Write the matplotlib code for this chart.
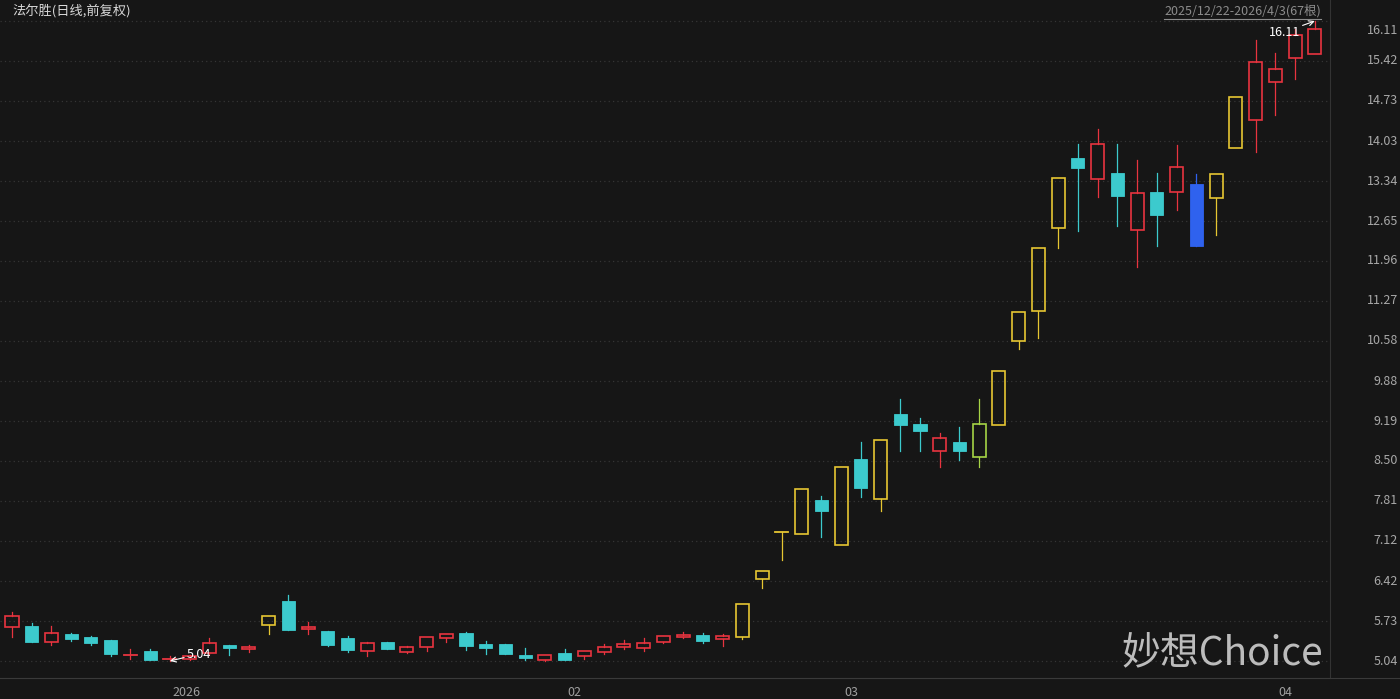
import matplotlib
matplotlib.use("Agg")
import matplotlib.pyplot as plt
from matplotlib.patches import Rectangle
from matplotlib.lines import Line2D

plt.rcParams["font.family"] = ["Noto Sans CJK SC", "DejaVu Sans"]

# daily OHLC, 2025/12/22 - 2026/4/3 (67 bars)
opens = [5.63, 5.65, 5.37, 5.51, 5.45, 5.40, 5.14, 5.22, 5.06, 5.07,
         5.17, 5.31, 5.24, 5.66, 6.08, 5.59, 5.56, 5.44, 5.21, 5.37,
         5.20, 5.29, 5.44, 5.52, 5.33, 5.33, 5.14, 5.06, 5.17, 5.13,
         5.20, 5.29, 5.27, 5.37, 5.46, 5.49, 5.42, 5.46, 6.45, 7.26,
         7.24, 7.83, 7.05, 8.53, 7.85, 9.31, 9.14, 8.67, 8.82, 8.57,
         9.12, 10.58, 11.09, 12.53, 13.74, 13.37, 13.48, 12.49, 13.15, 13.15,
         13.29, 13.05, 13.92, 14.39, 15.05, 15.47, 15.54]
highs = [5.88, 5.70, 5.65, 5.53, 5.47, 5.40, 5.24, 5.24, 5.12, 5.14,
         5.44, 5.32, 5.32, 5.81, 6.19, 5.72, 5.56, 5.47, 5.37, 5.37,
         5.30, 5.45, 5.51, 5.55, 5.39, 5.33, 5.26, 5.15, 5.24, 5.22,
         5.33, 5.40, 5.43, 5.47, 5.54, 5.52, 5.51, 6.02, 6.60, 7.27,
         8.01, 7.89, 8.40, 8.83, 8.86, 9.58, 9.25, 8.99, 9.09, 9.57,
         10.06, 11.07, 12.18, 13.39, 13.98, 14.24, 13.98, 13.70, 13.49, 13.97,
         13.46, 13.46, 14.80, 15.78, 15.55, 15.98, 16.11]
lows = [5.45, 5.37, 5.31, 5.38, 5.32, 5.13, 5.08, 5.05, 5.04, 5.06,
        5.16, 5.15, 5.20, 5.50, 5.58, 5.51, 5.30, 5.20, 5.12, 5.24,
        5.17, 5.22, 5.37, 5.23, 5.16, 5.16, 5.06, 5.04, 5.06, 5.08,
        5.16, 5.24, 5.22, 5.36, 5.43, 5.36, 5.30, 5.42, 6.30, 6.78,
        7.24, 7.19, 7.05, 7.87, 7.64, 8.67, 8.67, 8.40, 8.52, 8.39,
        9.12, 10.43, 10.63, 12.18, 12.48, 13.06, 12.57, 11.86, 12.22, 12.84,
        12.22, 12.41, 13.92, 13.85, 14.49, 15.10, 15.54]
closes = [5.82, 5.37, 5.52, 5.42, 5.36, 5.16, 5.15, 5.05, 5.07, 5.13,
          5.36, 5.27, 5.28, 5.81, 5.58, 5.63, 5.31, 5.23, 5.35, 5.25,
          5.29, 5.45, 5.50, 5.30, 5.27, 5.16, 5.10, 5.15, 5.06, 5.21,
          5.29, 5.33, 5.36, 5.47, 5.49, 5.39, 5.47, 6.02, 6.60, 7.27,
          8.01, 7.64, 8.40, 8.04, 8.86, 9.12, 9.02, 8.89, 8.68, 9.14,
          10.06, 11.07, 12.18, 13.39, 13.57, 13.98, 13.09, 13.13, 12.76, 13.58,
          12.22, 13.46, 14.80, 15.40, 15.28, 15.87, 15.98]

month_idx = [8, 28, 42, 64]
month_labels = ["2026", "02", "03", "04"]
price_ticks = [16.11, 15.42, 14.73, 14.03, 13.34, 12.65, 11.96, 11.27, 10.58,
               9.88, 9.19, 8.50, 7.81, 7.12, 6.42, 5.73, 5.04]
title = "法尔胜(日线,前复权)"
range_text = "2025/12/22-2026/4/3(67根)"

BG = "#161616"
RED = "#e8343f"
CYAN = "#3ccacd"
YELLOW = "#e6c632"
special = {13: YELLOW, 37: YELLOW, 38: YELLOW, 39: YELLOW, 40: YELLOW,
           42: YELLOW, 44: YELLOW, 49: "#a6d446", 50: YELLOW, 51: YELLOW,
           52: YELLOW, 53: YELLOW, 60: "#2f62ee", 61: YELLOW, 62: YELLOW}

fig = plt.figure(figsize=(14, 6.99), dpi=100, facecolor=BG)
ax = fig.add_axes([0, 21 / 699, 1330 / 1400, 678 / 699])
ax.set_facecolor(BG)
ax.set_xlim(-0.608, 66.77)
ax.set_ylim(4.746, 16.474)
for s in ["top", "left"]:
    ax.spines[s].set_visible(False)
ax.spines["right"].set_color("#333333")
ax.spines["bottom"].set_color("#3a3a3a")
ax.set_xticks([])
ax.set_yticks([])

for v in price_ticks:
    ax.axhline(v, color="#353535", lw=0.9, ls=(0, (1, 2.5)), zorder=0)

w = 0.66
for i in range(len(opens)):
    o, h, l, c = opens[i], highs[i], lows[i], closes[i]
    up = c >= o
    col = special.get(i, RED if up else CYAN)
    top, bot = max(o, c), min(o, c)
    if top - bot < 0.02:
        ax.plot([i - w / 2, i + w / 2], [c, c], color=col, lw=1.3, zorder=3)
        ax.plot([i, i], [l, h], color=col, lw=0.9, zorder=2)
        continue
    if up:
        ax.add_patch(Rectangle((i - w / 2, bot), w, top - bot, facecolor="none",
                               edgecolor=col, lw=1.2, zorder=3))
        if h > top:
            ax.plot([i, i], [top, h], color=col, lw=0.9, zorder=2)
        if l < bot:
            ax.plot([i, i], [l, bot], color=col, lw=0.9, zorder=2)
    else:
        ax.plot([i, i], [l, h], color=col, lw=0.9, zorder=2)
        ax.add_patch(Rectangle((i - w / 2, bot), w, top - bot, facecolor=col,
                               edgecolor=col, lw=0.6, zorder=3))

# min / max markers
lo_i = lows.index(min(lows))
hi_i = highs.index(max(highs))
ax.annotate(f"{min(lows):.2f}", xy=(lo_i, min(lows)), xytext=(17, 7),
            textcoords="offset pixels", color="white", fontsize=9,
            ha="left", va="center",
            arrowprops=dict(arrowstyle="->", color="white", lw=0.8,
                            shrinkA=0, shrinkB=0))
ax.annotate(f"{max(highs):.2f}", xy=(hi_i, max(highs)), xytext=(-15, -11),
            textcoords="offset pixels", color="white", fontsize=9,
            ha="right", va="center",
            arrowprops=dict(arrowstyle="->", color="white", lw=0.8,
                            shrinkA=0, shrinkB=0))

# price labels on the right
for v in price_ticks:
    dy = -9 if v == price_ticks[0] else 0
    ax.annotate(f"{v:.2f}", xy=(1, v), xycoords=("axes fraction", "data"),
                xytext=(68, dy), textcoords="offset pixels", ha="right",
                va="center", color="#a8a8a8", fontsize=9, annotation_clip=False)

# month labels
for i, lab in zip(month_idx, month_labels):
    ax.annotate(lab, xy=(i, 4.746), xytext=(3, -14), textcoords="offset pixels",
                ha="left", va="center", color="#a0a0a0", fontsize=9,
                annotation_clip=False)

fig.text(12 / 1400, 1 - 11 / 699, title, color="#d8d8d8", fontsize=9.5,
         ha="left", va="center")
fig.text(1321 / 1400, 1 - 11 / 699, range_text, color="#8c8c8c", fontsize=9,
         ha="right", va="center")
fig.add_artist(Line2D([1164 / 1400, 1321 / 1400], [1 - 19 / 699, 1 - 19 / 699],
                      color="#8c8c8c", lw=0.8))
fig.add_artist(Line2D([0, 1], [21 / 699, 21 / 699], color="#3a3a3a", lw=0.8))

fig.text(1222 / 1400, 1 - 653 / 699, "妙想Choice", color="#cfcfcf", alpha=0.9,
         fontsize=28, ha="center", va="center")

fig.savefig("out.png", dpi=100, facecolor=BG)
